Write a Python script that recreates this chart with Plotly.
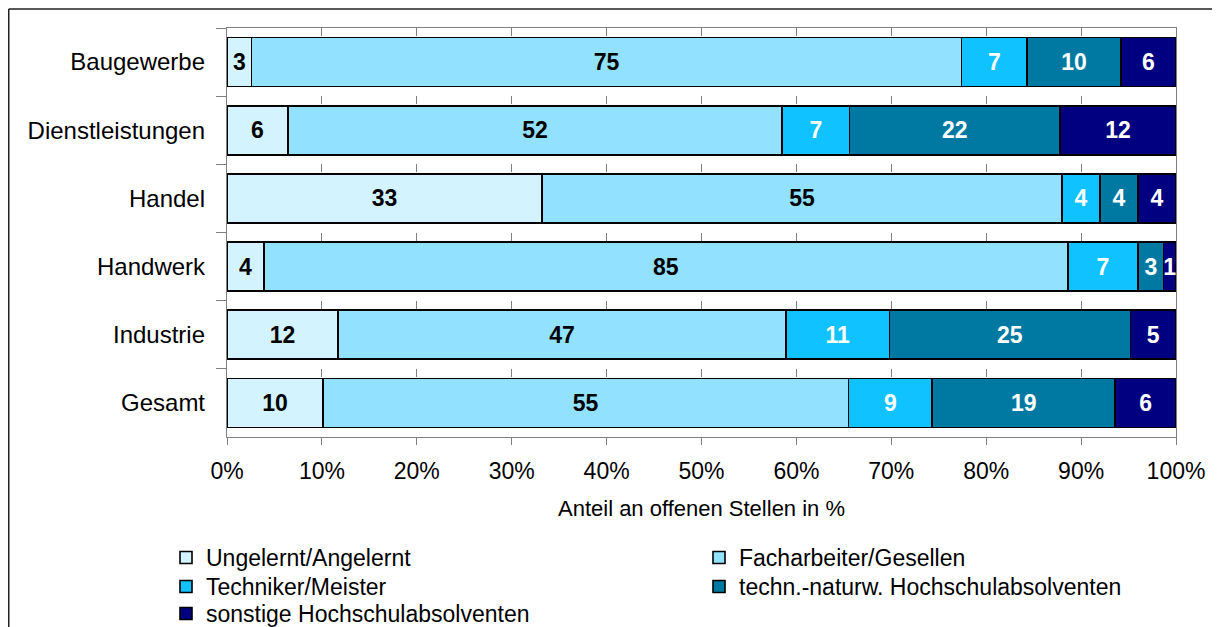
import plotly.graph_objects as go

branchen = ["Baugewerbe", "Dienstleistungen", "Handel", "Handwerk", "Industrie", "Gesamt"]
ungelernt = [2.6, 6.4, 33.2, 3.9, 11.7, 10.1]
facharbeiter = [74.8, 52.1, 54.8, 84.7, 47.2, 55.4]
techniker = [6.9, 7.1, 4.0, 7.4, 10.9, 8.8]
hochschule_tn = [9.9, 22.2, 4.0, 2.7, 25.4, 19.3]
hochschule_sonst = [5.8, 12.2, 4.0, 1.3, 4.8, 6.4]

x_ticks = [0, 10, 20, 30, 40, 50, 60, 70, 80, 90, 100]
x_ticktext = ["0%", "10%", "20%", "30%", "40%", "50%", "60%", "70%", "80%", "90%", "100%"]

# (Name, Werte, Füllfarbe, Textfarbe, Legendenspalte, Legendenzeile)
serien = [
    ("Ungelernt/Angelernt", ungelernt, "#D2F3FF", "black", 0, 0),
    ("Facharbeiter/Gesellen", facharbeiter, "#92E2FF", "black", 1, 0),
    ("Techniker/Meister", techniker, "#10C2FF", "white", 0, 1),
    ("techn.-naturw. Hochschulabsolventen", hochschule_tn, "#0079A2", "white", 1, 1),
    ("sonstige Hochschulabsolventen", hochschule_sonst, "#000080", "white", 0, 2),
]

FONT = "Liberation Sans, Arial, sans-serif"
# die Seite hat 8px Rand, daher etwas kleiner als das Fenster
W, H = 1212, 619
L, R, T, B = 219, 44, 20, 190
plot_w = W - L - R
plot_h = H - T - B

# Legende: Spalten- und Zeilenpositionen (Pixel im Diagramm)
leg_spalten = [158, 691]
leg_zeilen = [528, 557, 584]


def px_x(px):
    return (px - L) / plot_w


def px_y(py):
    return (H - B - py) / plot_h


fig = go.Figure()
legenden = {}

for i, (name, werte, farbe, textfarbe, spalte, zeile) in enumerate(serien):
    leg = "legend" if i == 0 else "legend%d" % (i + 1)
    legenden[leg] = dict(
        orientation="v",
        xref="container",
        yref="container",
        xanchor="left",
        yanchor="top",
        x=leg_spalten[spalte] / W,
        y=1 - leg_zeilen[zeile] / H,
        font=dict(family=FONT, size=23, color="black"),
        itemclick=False,
        bgcolor="rgba(0,0,0,0)",
    )
    fig.add_trace(go.Bar(
        y=branchen,
        x=werte,
        name=name,
        orientation="h",
        legend=leg,
        marker=dict(color=farbe, line=dict(color="black", width=1.6)),
        texttemplate="%{x:.0f}",
        textposition="inside",
        insidetextanchor="middle",
        textangle=0,
        textfont=dict(family=FONT, size=23, color=textfarbe, weight="bold"),
        hoverinfo="skip",
    ))

pitch = plot_h / len(branchen)

fig.update_layout(
    barmode="stack",
    bargap=0.282,
    width=W,
    height=H,
    autosize=False,
    margin=dict(l=L, r=R, t=T, b=B, autoexpand=False),
    paper_bgcolor="white",
    plot_bgcolor="white",
    font=dict(family=FONT, size=22, color="black"),
    uniformtext=dict(minsize=23, mode="show"),
    showlegend=True,
    xaxis=dict(
        range=[0, 100],
        tickmode="array",
        tickvals=x_ticks,
        ticktext=x_ticktext,
        ticks="outside",
        ticklen=7,
        tickcolor="#808080",
        tickwidth=1.3,
        showline=True,
        linecolor="#808080",
        linewidth=1.3,
        mirror=True,
        showgrid=True,
        gridcolor="#808080",
        gridwidth=1.3,
        griddash="8px,%.1fpx" % (pitch - 8),
        zeroline=False,
        automargin=False,
        tickfont=dict(size=23),
        ticklabelstandoff=6,
        title=dict(text="Anteil an offenen Stellen in %", font=dict(size=22), standoff=17),
    ),
    yaxis=dict(
        autorange="reversed",
        type="category",
        ticks="outside",
        tickson="boundaries",
        ticklen=10,
        tickcolor="#808080",
        tickwidth=1.3,
        showline=True,
        linecolor="#808080",
        linewidth=1.3,
        mirror=True,
        showgrid=False,
        automargin=False,
        tickfont=dict(size=24),
        ticklabelstandoff=16,
    ),
)
fig.update_layout(**legenden)

# äußerer Rahmen des Diagrammobjekts (rechts und unten abgeschnitten)
rahmen = dict(type="line", xref="paper", yref="paper",
              line=dict(color="#222222", width=1.5), layer="below")
fig.add_shape(rahmen, x0=px_x(0.75), y0=px_y(1), x1=px_x(W), y1=px_y(1))
fig.add_shape(rahmen, x0=px_x(0.75), y0=px_y(1), x1=px_x(0.75), y1=px_y(H))

fig.write_html("out.html")
